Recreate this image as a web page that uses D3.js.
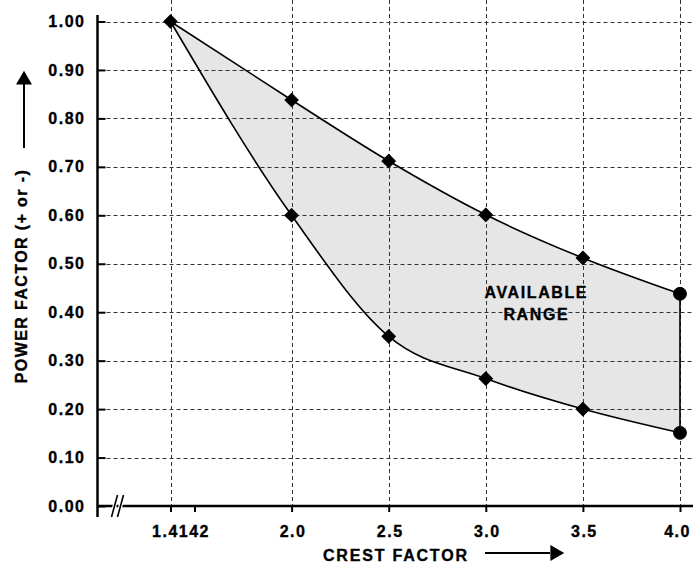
<!DOCTYPE html>
<html>
<head>
<meta charset="utf-8">
<script src="https://cdn.jsdelivr.net/npm/d3@7"></script>
<style>
	body { margin: 0; background: #fff; }
	svg { display: block; font-family: "Liberation Sans", Arial, sans-serif; font-weight: bold; }
	svg text { stroke: #000; stroke-width: 0.35px; }
</style>
</head>
<body>
<script>
// crest factor values (x) shared by both boundaries
const crestFactors = [1.4142, 2.0, 2.5, 3.0, 3.5, 4.0];
// upper and lower limits of the power factor
const upperPF = [1.00, 0.838, 0.712, 0.601, 0.512, 0.438];
const lowerPF = [1.00, 0.600, 0.350, 0.263, 0.200, 0.151];
// axis ticks
const xTicks = [1.4142, 1.5, 2.0, 2.5, 3.0, 3.5, 4.0];
const xTickLabels = ["1.4142", "", "2.0", "2.5", "3.0", "3.5", "4.0"];
const yTicks = [0, 0.1, 0.2, 0.3, 0.4, 0.5, 0.6, 0.7, 0.8, 0.9, 1.0];

const width = 693, height = 565;
const margin = {top: 21.5, right: 13, bottom: 59, left: 97.5};

const data = crestFactors.map((c, i) => ({c, hi: upperPF[i], lo: lowerPF[i]}));

// x axis is broken near the origin: the segment before 1.5 is compressed
const x = d3.scaleLinear()
	.domain([1.0, 1.4142, 1.5, 4.0])
	.range([margin.left, 170.5, 194.5, width - margin.right]);

const y = d3.scaleLinear()
	.domain([0, 1])
	.range([height - margin.bottom, margin.top]);

const svg = d3.select("body").append("svg")
	.attr("width", width)
	.attr("height", height);

// available range
const area = d3.area()
	.x(d => x(d.c))
	.y0(d => y(d.lo))
	.y1(d => y(d.hi))
	.curve(d3.curveMonotoneX);

svg.append("path")
	.datum(data)
	.attr("fill", "#e6e6e6")
	.attr("d", area);

// grid
svg.append("g")
		.attr("stroke", "#333")
		.attr("stroke-width", 1)
		.attr("stroke-dasharray", "4,3")
	.call(g => g.selectAll("line.h")
		.data(yTicks.filter(d => d > 0))
		.join("line")
			.attr("class", "h")
			.attr("x1", margin.left + 2)
			.attr("x2", width)
			.attr("y1", d => Math.round(y(d)) + 0.5)
			.attr("y2", d => Math.round(y(d)) + 0.5))
	.call(g => g.selectAll("line.v")
		.data(crestFactors)
		.join("line")
			.attr("class", "v")
			.attr("x1", d => Math.round(x(d)) + 0.5)
			.attr("x2", d => Math.round(x(d)) + 0.5)
			.attr("y1", 0)
			.attr("y2", y(0)));

svg.append("path")
	.datum(data)
	.attr("fill", "none")
	.attr("stroke", "#000")
	.attr("stroke-width", 1.6)
	.attr("stroke-linejoin", "round")
	.attr("d", area);

// markers
const pts = data.flatMap(d => [{c: d.c, v: d.hi}, {c: d.c, v: d.lo}])
	.filter((d, i) => !(d.c === 1.4142 && i % 2 === 1));

svg.append("g")
	.selectAll("path")
	.data(pts)
	.join("path")
		.attr("transform", d => `translate(${x(d.c)},${y(d.v)})` + (d.c === 4.0 ? "" : " rotate(45)"))
		.attr("d", d => d.c === 4.0
			? d3.symbol(d3.symbolCircle, 130)()
			: d3.symbol(d3.symbolSquare, 90)())
		.attr("fill", "#000")
		.attr("stroke", "#000")
		.attr("stroke-linejoin", "round");

// y axis
svg.append("g")
		.attr("transform", `translate(${margin.left},0)`)
		.call(d3.axisLeft(y).tickValues(yTicks).tickFormat(d3.format(".2f")).tickSizeInner(-8).tickSizeOuter(0).tickPadding(12))
		.call(g => g.select(".domain").remove())
		.call(g => g.selectAll(".tick line").attr("stroke-width", 2))
		.call(g => g.selectAll(".tick text")
			.attr("font-family", null)
			.attr("font-size", 16)
			.attr("letter-spacing", "1.5px")
			.attr("fill", "#000"));

svg.append("line")
	.attr("x1", margin.left).attr("x2", margin.left)
	.attr("y1", 15).attr("y2", y(0) + 11)
	.attr("stroke", "#000").attr("stroke-width", 2.5);

// x axis
svg.append("g")
		.attr("transform", `translate(0,${y(0)})`)
		.call(d3.axisBottom(x).tickValues(xTicks).tickFormat((d, i) => xTickLabels[i]).tickSize(6).tickPadding(14))
		.call(g => g.select(".domain").remove())
		.call(g => g.selectAll(".tick line").attr("stroke-width", 2))
		.call(g => g.selectAll(".tick text")
			.attr("font-family", null)
			.attr("font-size", 16)
			.attr("letter-spacing", "1.5px")
			.attr("fill", "#000")
			.attr("dx", d => d === 1.4142 ? 10 : d === 4.0 ? -3 : 1));

svg.append("line")
	.attr("x1", margin.left).attr("x2", width)
	.attr("y1", y(0)).attr("y2", y(0))
	.attr("stroke", "#000").attr("stroke-width", 2.5);

// axis break marks
const brk = svg.append("g").attr("transform", `translate(${margin.left + 20},${y(0)})`);
[-3, 3].forEach(dx => {
	brk.append("line")
		.attr("x1", dx - 3).attr("y1", 11)
		.attr("x2", dx + 3).attr("y2", -11)
		.attr("stroke", "#fff").attr("stroke-width", 4);
});
[-3, 3].forEach(dx => {
	brk.append("line")
		.attr("x1", dx - 3).attr("y1", 11)
		.attr("x2", dx + 3).attr("y2", -11)
		.attr("stroke", "#000").attr("stroke-width", 1.6);
});

// labels
const labelX = (x(3.0) + x(3.5)) / 2 + 2;
svg.append("text")
	.attr("x", labelX)
	.attr("y", y(0.43))
	.attr("text-anchor", "middle")
	.attr("font-size", 16)
	.attr("letter-spacing", "1.6px")
	.call(t => t.append("tspan").attr("x", labelX).text("AVAILABLE"))
	.call(t => t.append("tspan").attr("x", labelX).attr("dy", 22).text("RANGE"));

svg.append("text")
	.attr("x", 323)
	.attr("y", 561)
	.attr("font-size", 16)
	.attr("letter-spacing", "1.8px")
	.text("CREST FACTOR");

svg.append("text")
	.attr("transform", "translate(27,276) rotate(-90)")
	.attr("text-anchor", "middle")
	.attr("font-size", 16)
	.attr("letter-spacing", "1.4px")
	.text("POWER FACTOR (+ or -)");

// arrows
const arrowHead = d3.symbol(d3.symbolTriangle, 110);
svg.append("line")
	.attr("x1", 485).attr("x2", 550).attr("y1", 553).attr("y2", 553)
	.attr("stroke", "#000").attr("stroke-width", 2);
svg.append("path")
	.attr("transform", "translate(555,553) rotate(90)")
	.attr("d", arrowHead());

svg.append("line")
	.attr("x1", 24).attr("x2", 24).attr("y1", 148).attr("y2", 84)
	.attr("stroke", "#000").attr("stroke-width", 2);
svg.append("path")
	.attr("transform", "translate(24,80)")
	.attr("d", arrowHead());
</script>
</body>
</html>
